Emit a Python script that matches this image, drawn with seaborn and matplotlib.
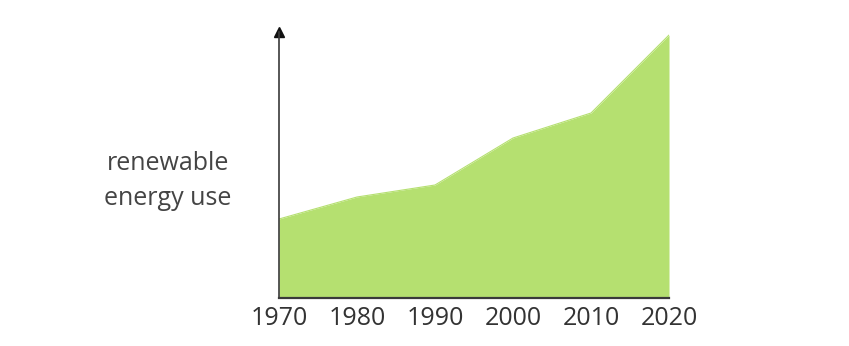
import matplotlib
matplotlib.use("Agg")
import matplotlib.pyplot as plt
import numpy as np
import pandas as pd
import seaborn as sns

# ── data (arbitrary units, baseline = 0) ──
years = [1970, 1980, 1990, 2000, 2010, 2020]
usage = [79, 101, 113, 160, 185, 263]
tick_labels = ["1970", "1980", "1990", "2000", "2010", "2020"]

FILL = "#b5e070"
AXIS = "#3a3a3a"
TEXT = "#333333"

sns.set_style("white")
plt.rcParams["font.family"] = ["Open Sans", "DejaVu Sans"]

df = pd.DataFrame({"year": years, "use": usage})

fig = plt.figure(figsize=(8.49, 3.46), dpi=100)
ax = fig.add_axes([0.3286, 0.1387, 0.4594, 0.7688])

sns.lineplot(data=df, x="year", y="use", ax=ax, color=FILL, linewidth=0.8)
ax.fill_between(df["year"], 0, df["use"], color=FILL, linewidth=0)

ax.set_xlim(1970, 2020)
ax.set_ylim(0, 266)
ax.set_xticks(years)
ax.set_xticklabels(tick_labels, fontsize=18, color=TEXT)
ax.set_yticks([])
ax.set_xlabel("")
ax.set_ylabel("")
ax.tick_params(axis="x", length=0, pad=6)

for side in ["top", "right"]:
    ax.spines[side].set_visible(False)
ax.spines["left"].set_color(AXIS)
ax.spines["bottom"].set_color(AXIS)
ax.spines["left"].set_linewidth(1.2)
ax.spines["bottom"].set_linewidth(1.6)

# arrow head on top of the y axis
ax.plot(0, 1, marker="^", color="#111111", markersize=7,
        transform=ax.transAxes, clip_on=False)

fig.text(0.198, 0.477, "renewable\nenergy use", ha="center", va="center",
         fontsize=18, color="#444444", linespacing=1.5)

fig.savefig("out.png", dpi=100)
plt.close(fig)
